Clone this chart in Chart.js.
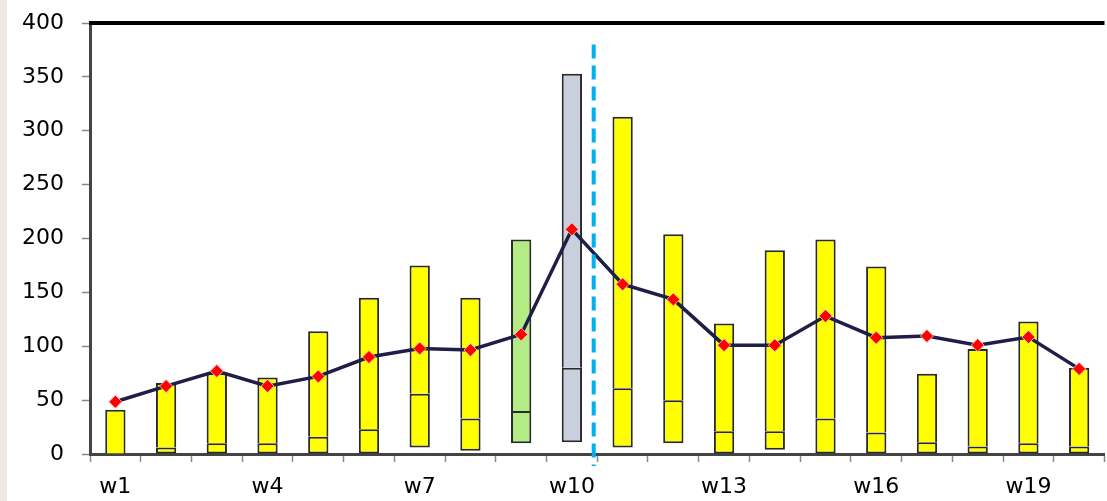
<!DOCTYPE html>
<html>
<head>
<meta charset="utf-8">
<script src="https://cdn.jsdelivr.net/npm/chart.js@4"></script>
<style>
  html, body { margin: 0; padding: 0; background: #fff; overflow: hidden; }
  #strip { position: absolute; left: 0; top: 0; width: 7px; height: 501px; background: #edeae2; z-index: 2; }
  #wrap { position: absolute; left: 0; top: 0; width: 1112px; height: 501px; }
</style>
</head>
<body>
<div id="strip"></div>
<div id="wrap"><canvas id="weeksChart"></canvas></div>
<script>
// datos
var weeks = ['w1','w2','w3','w4','w5','w6','w7','w8','w9','w10','w11','w12','w13','w14','w15','w16','w17','w18','w19','w20'];
var lows  = [0, 0, 0, 0, 0, 0, 6, 3, 10, 11, 6, 10, 0, 4, 0, 0, 0, 0, 0, 0];
var mids  = [0, 6, 10, 10, 16, 23, 56, 33, 40, 80, 61, 50, 21, 21, 33, 20, 11, 7, 10, 7];
var highs = [41, 66, 75, 71, 114, 145, 175, 145, 199, 353, 313, 204, 121, 189, 199, 174, 74.5, 97.5, 123, 80];
var avg   = [48.5, 63, 77, 63, 72, 90, 98, 96.5, 111, 208.5, 157.5, 143.5, 101, 101, 128, 108, 109.5, 101, 108.5, 79];
var yTicks = [0, 50, 100, 150, 200, 250, 300, 350, 400];
var splitAt = 9.43;   // linea discontinua entre w10 y w11
var splitTop = 380;

var barColors = weeks.map(function(w, i) {
    if (i === 8) return '#b3eb85';
    if (i === 9) return '#cacfdd';
    return '#ffff00';
});

var fontFam = "'DejaVu Sans', 'Liberation Sans', Arial, sans-serif";

// borde superior negro y linea discontinua
var extras = {
    id: 'extras',
    afterDatasetsDraw: function(chart) {
        var ctx = chart.ctx, a = chart.chartArea;
        var x = chart.scales.x, y = chart.scales.y;
        ctx.save();
        ctx.strokeStyle = '#000';
        ctx.lineWidth = 4;
        ctx.beginPath();
        ctx.moveTo(a.left - 1, a.top);
        ctx.lineTo(a.right, a.top);
        ctx.stroke();

        var px = x.getPixelForValue(splitAt);
        ctx.strokeStyle = '#00b0f0';
        ctx.lineWidth = 4;
        ctx.setLineDash([14, 7]);
        ctx.beginPath();
        ctx.moveTo(px, y.getPixelForValue(splitTop));
        ctx.lineTo(px, a.bottom + 12);
        ctx.stroke();
        ctx.restore();
    }
};

document.addEventListener("DOMContentLoaded", function() {
    var ctx = document.getElementById('weeksChart').getContext('2d');
    new Chart(ctx, {
        data: {
            labels: weeks,
            datasets: [{
                type: 'line',
                data: avg,
                order: 0,
                borderColor: '#1e1e48',
                borderWidth: 3.5,
                tension: 0,
                pointStyle: 'rectRot',
                pointRadius: 6.5,
                pointBackgroundColor: '#ff0000',
                pointBorderColor: 'rgba(255,190,190,0.9)',
                pointBorderWidth: 1
            }, {
                type: 'bar',
                data: lows.map(function(v, i) { return [v, mids[i]]; }),
                order: 1,
                grouped: false,
                backgroundColor: barColors,
                borderColor: '#2a2a2a',
                borderWidth: 2,
                borderSkipped: false,
                barPercentage: 0.4,
                categoryPercentage: 1
            }, {
                type: 'bar',
                data: mids.map(function(v, i) { return [v, highs[i]]; }),
                order: 1,
                grouped: false,
                backgroundColor: barColors,
                borderColor: '#2a2a2a',
                borderWidth: { top: 2, left: 2, right: 2, bottom: 0 },
                borderSkipped: false,
                barPercentage: 0.4,
                categoryPercentage: 1
            }]
        },
        options: {
            responsive: true,
            maintainAspectRatio: false,
            animation: false,
            layout: { padding: { top: 23, right: 0, left: 0, bottom: 0 } },
            plugins: { legend: { display: false }, tooltip: { enabled: false } },
            scales: {
                x: {
                    offset: true,
                    grid: { offset: true, drawOnChartArea: false, tickLength: 8, color: '#888', tickWidth: 1.5 },
                    border: { color: '#444', width: 3 },
                    ticks: {
                        autoSkip: false,
                        maxRotation: 0,
                        padding: 12,
                        color: '#000',
                        font: { family: fontFam, size: 22 },
                        callback: function(v, i) { return i % 3 === 0 ? weeks[i] : ''; }
                    },
                    afterFit: function(s) { s.height = 47; s.paddingLeft = 0; s.paddingRight = 0; }
                },
                y: {
                    min: 0,
                    max: 400,
                    afterBuildTicks: function(s) { s.ticks = yTicks.map(function(v) { return { value: v }; }); },
                    grid: { drawOnChartArea: false, tickLength: 8, color: '#888', tickWidth: 1.5 },
                    border: { color: '#444', width: 3 },
                    ticks: {
                        padding: 18,
                        color: '#000',
                        font: { family: fontFam, size: 22 }
                    },
                    afterFit: function(s) { s.width = 90; s.paddingTop = 0; s.paddingBottom = 0; }
                }
            }
        },
        plugins: [extras]
    });
});
</script>
</body>
</html>
